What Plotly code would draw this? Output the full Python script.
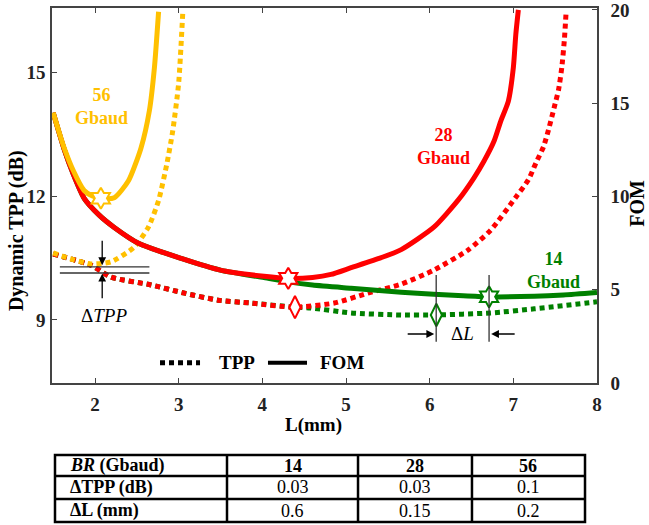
import plotly.graph_objects as go

# ---------------- data ----------------
# TPP curves (left axis, dB)
L_tpp56 = [1.50, 1.68, 1.95, 2.19, 2.47, 2.64, 2.76, 2.86, 2.93, 3.00, 3.05]
tpp56 = [10.63, 10.50, 10.36, 10.41, 10.77, 11.26, 11.90, 12.80, 13.60, 14.75, 16.50]

L_tpp28 = [1.50, 1.95, 2.19, 2.67, 3.07, 3.47, 3.87, 4.38, 4.86, 5.26, 5.66, 6.05, 6.46,
           6.73, 7.03, 7.18, 7.27, 7.36, 7.42, 7.49, 7.54, 7.58, 7.61, 7.63]
tpp28 = [10.60, 10.33, 10.04, 9.85, 9.65, 9.48, 9.41, 9.31, 9.41, 9.65, 9.87, 10.21, 10.70,
         11.18, 11.98, 12.40, 12.81, 13.20, 13.61, 14.17, 14.58, 15.14, 15.80, 16.45]

L_tpp14 = [1.50, 1.95, 2.19, 2.67, 3.07, 3.47, 3.87, 4.38, 4.58, 5.06, 5.66, 6.05, 6.73, 7.25, 8.00]
tpp14 = [10.60, 10.33, 10.04, 9.85, 9.65, 9.48, 9.41, 9.31, 9.29, 9.17, 9.12, 9.12, 9.17, 9.27, 9.44]

# FOM curves (right axis)
L_fom56 = [1.50, 1.63, 1.74, 1.87, 1.97, 2.07, 2.23, 2.40, 2.55, 2.65, 2.71, 2.76]
fom56 = [14.49, 12.62, 11.39, 10.32, 10.02, 9.90, 9.93, 10.84, 12.60, 14.60, 16.90, 19.90]

L_fom28 = [1.50, 1.63, 1.74, 1.87, 2.05, 2.23, 2.52, 3.03, 3.51, 4.02, 4.31, 4.60, 4.82, 5.06,
           5.42, 5.66, 6.05, 6.34, 6.53, 6.65, 6.77, 6.85, 6.94, 7.00, 7.03, 7.06]
fom28 = [14.49, 12.55, 11.20, 9.90, 9.00, 8.34, 7.49, 6.68, 6.04, 5.72, 5.61, 5.66, 5.82, 6.18,
         6.72, 7.15, 8.35, 9.80, 11.00, 11.90, 12.97, 14.04, 15.10, 16.90, 18.70, 20.00]

L_fom14 = [1.50, 1.63, 1.74, 1.87, 2.05, 2.23, 2.52, 3.03, 3.51, 4.02, 4.31, 4.60, 5.06, 5.66,
           6.05, 6.40, 6.71, 7.25, 7.60, 8.00]
fom14 = [14.49, 12.55, 11.20, 9.90, 9.00, 8.34, 7.49, 6.68, 6.04, 5.65, 5.42, 5.25, 5.08, 4.87,
         4.76, 4.68, 4.62, 4.65, 4.72, 4.85]

# optimum markers
star_L = [2.07, 4.31, 6.71]          # FOM optimum (56, 28, 14 Gbaud)
star_fom = [9.90, 5.61, 4.62]
diam_L = [4.39, 6.08]                # TPP optimum (28, 14 Gbaud)
diam_tpp = [9.31, 9.12]

# table
tbl_head = ["<i>BR</i> (Gbaud)", "14", "28", "56"]
tbl_rows = ["ΔTPP (dB)", "ΔL (mm)"]
tbl_dtpp = [0.03, 0.03, 0.1]
tbl_dL = [0.6, 0.15, 0.2]

# tick labels
x_ticks = [2, 3, 4, 5, 6, 7, 8]
y_ticks = [9, 12, 15]
y2_ticks = [0, 5, 10, 15, 20]

# ---------------- styling ----------------
FONT = "Liberation Serif"
YEL, RED, GRN = "#FFC000", "#FF0000", "#008000"
AX = "#444444"
DOT = "5px,4px"

fig = go.Figure()

for Lx, yy, c in [(L_tpp14, tpp14, GRN), (L_tpp28, tpp28, RED), (L_tpp56, tpp56, YEL)]:
    fig.add_trace(go.Scatter(x=Lx, y=yy, mode="lines", yaxis="y",
                             line=dict(color=c, width=5, dash=DOT, shape="spline", smoothing=0.6),
                             showlegend=False, hoverinfo="skip"))
for Lx, yy, c in [(L_fom14, fom14, GRN), (L_fom28, fom28, RED), (L_fom56, fom56, YEL)]:
    fig.add_trace(go.Scatter(x=Lx, y=yy, mode="lines", yaxis="y2",
                             line=dict(color=c, width=5, shape="spline", smoothing=0.6),
                             showlegend=False, hoverinfo="skip"))

fig.add_trace(go.Scatter(x=diam_L, y=diam_tpp, mode="markers", yaxis="y",
                         marker=dict(symbol="diamond-tall", size=16, color="white",
                                     line=dict(color=[RED, GRN], width=2)),
                         showlegend=False, hoverinfo="skip"))
fig.add_trace(go.Scatter(x=star_L, y=star_fom, mode="markers", yaxis="y2",
                         marker=dict(symbol="hexagram", size=16, color="white",
                                     line=dict(color=[YEL, RED, GRN], width=2)),
                         showlegend=False, hoverinfo="skip"))

# ---------------- annotations ----------------
ann = []
def txt(x, y, s, color="black", size=19, xref="x", yref="y", xanchor="center", **kw):
    ann.append(dict(x=x, y=y, xref=xref, yref=yref, text=s, showarrow=False,
                    xanchor=xanchor, yanchor="middle",
                    font=dict(family=FONT, size=size, color=color), **kw))

txt(2.074, 14.19, "<b>56<br>Gbaud</b>", YEL, size=18)
txt(6.16, 13.22, "<b>28<br>Gbaud</b>", RED, size=18)
txt(7.48, 10.19, "<b>14<br>Gbaud</b>", GRN, size=18)
txt(2.11, 9.12, "Δ<i>TPP</i>")
txt(6.39, 8.66, "Δ<i>L</i>")

# axis titles (paper coords: x=(px-52)/545, y=(523-py)/515)
txt(-0.064, 0.567, "<b>Dynamic TPP (dB)</b>", size=20, xref="paper", yref="paper", textangle=-90)
txt(1.0734, 0.620, "<b>FOM</b>", size=20, xref="paper", yref="paper", textangle=-90)
txt(0.479, 0.190, "<b>L(mm)</b>", size=19, xref="paper", yref="paper")
# legend texts
txt(0.303, 0.311, "<b>TPP</b>", xref="paper", yref="paper", xanchor="left")
txt(0.488, 0.311, "<b>FOM</b>", xref="paper", yref="paper", xanchor="left")

# arrows
def arrow(x, y, ax, ay):
    ann.append(dict(x=x, y=y, xref="x", yref="y", ax=ax, ay=ay, text="", showarrow=True,
                    arrowhead=2, arrowsize=1.2, arrowwidth=1.3, arrowcolor="black"))
arrow(2.086, 10.33, 0, -26)
arrow(2.086, 10.12, 0, 26)
arrow(6.054, 8.66, -28, 0)
arrow(6.735, 8.66, 25, 0)

shapes = [
    dict(type="line", xref="x", yref="y", x0=1.58, x1=2.65, y0=10.29, y1=10.29,
         line=dict(color="#333", width=1.3)),
    dict(type="line", xref="x", yref="y", x0=1.58, x1=2.65, y0=10.14, y1=10.14,
         line=dict(color="#333", width=1.3)),
    dict(type="line", xref="x", yref="y", x0=6.078, x1=6.078, y0=8.47, y1=10.09,
         line=dict(color="#333", width=1.3)),
    dict(type="line", xref="x", yref="y", x0=6.71, x1=6.71, y0=8.47, y1=10.09,
         line=dict(color="#333", width=1.3)),
    # legend samples
    dict(type="line", xref="paper", yref="paper", x0=0.1982, x1=0.2716, y0=0.311, y1=0.311,
         line=dict(color="black", width=5, dash=DOT)),
    dict(type="line", xref="paper", yref="paper", x0=0.3963, x1=0.4679, y0=0.311, y1=0.311,
         line=dict(color="black", width=4)),
]

# ---------------- table (paper coords) ----------------
col_edges = [0.0055, 0.3211, 0.5615, 0.7706, 0.9780]
row_edges = [0.1320, 0.0913, 0.0466, 0.0019]
TW = 2.5
shapes.append(dict(type="rect", xref="paper", yref="paper", x0=col_edges[0], x1=col_edges[-1],
                   y0=row_edges[-1], y1=row_edges[0], line=dict(color="black", width=TW)))
for xe in col_edges[1:-1]:
    shapes.append(dict(type="line", xref="paper", yref="paper", x0=xe, x1=xe,
                       y0=row_edges[-1], y1=row_edges[0], line=dict(color="black", width=TW)))
for ye in row_edges[1:-1]:
    shapes.append(dict(type="line", xref="paper", yref="paper", x0=col_edges[0], x1=col_edges[-1],
                       y0=ye, y1=ye, line=dict(color="black", width=TW)))

row_mid = [(row_edges[i] + row_edges[i + 1]) / 2 for i in range(3)]
col_mid = [(col_edges[i] + col_edges[i + 1]) / 2 for i in range(4)]
first_x = 0.0294
table_text = [tbl_head,
              [tbl_rows[0]] + [str(v) for v in tbl_dtpp],
              [tbl_rows[1]] + [str(v) for v in tbl_dL]]
for r, row in enumerate(table_text):
    for c, s in enumerate(row):
        bold = (r == 0 or c == 0)
        label = "<b>%s</b>" % s if bold else s
        if c == 0:
            txt(first_x, row_mid[r], label, size=18, xref="paper", yref="paper", xanchor="left")
        else:
            txt(col_mid[c], row_mid[r], label, size=18, xref="paper", yref="paper")

tickfont = dict(family=FONT, size=19, color="#222", weight="bold")
fig.update_layout(
    width=649, height=525,
    margin=dict(l=52, r=52, t=8, b=2, autoexpand=False),
    paper_bgcolor="white", plot_bgcolor="white",
    annotations=ann, shapes=shapes, showlegend=False,
    xaxis=dict(range=[1.486, 8.0], tickvals=x_ticks, ticks="inside", ticklen=5,
               tickcolor=AX, showline=True, linecolor=AX, linewidth=1.5, mirror="ticks",
               showgrid=False, zeroline=False, tickfont=tickfont, ticklabelstandoff=3,
               anchor="y", automargin=False),
    yaxis=dict(range=[7.47, 16.57], tickvals=y_ticks, ticks="inside", ticklen=5,
               tickcolor=AX, showline=True, linecolor=AX, linewidth=1.5,
               showgrid=False, zeroline=False, tickfont=tickfont, ticklabelstandoff=1,
               domain=[0.2718, 1.0], automargin=False),
    yaxis2=dict(range=[0, 20.1], tickvals=y2_ticks, ticks="inside", ticklen=5,
                tickcolor=AX, showline=True, linecolor=AX, linewidth=1.5,
                overlaying="y", side="right", showgrid=False, zeroline=False,
                tickfont=tickfont, ticklabelstandoff=8, automargin=False,
                ticklabeloverflow="allow"),
)

fig.write_html("out.html")
